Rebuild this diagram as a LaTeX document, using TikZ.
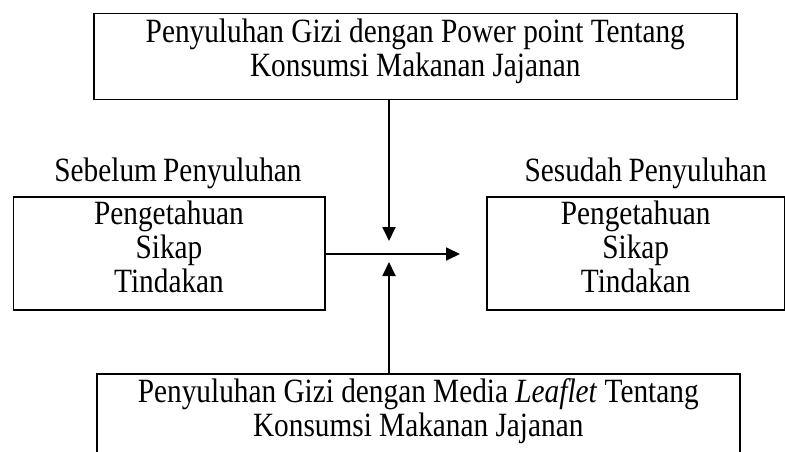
\documentclass[tikz,border=0pt]{standalone}
\usepackage{fontspec}
\setmainfont{Liberation Serif}[FakeStretch=0.862, WordSpace=0.85]
\usetikzlibrary{arrows.meta,positioning}

\tikzset{
  box/.style={draw, line width=1.5pt, inner sep=0pt, align=center, anchor=north west,
    execute at begin node={\spaceskip=7.3pt\relax}},
  arr/.style={line width=1.8pt, -{Triangle[length=14pt,width=13pt]}},
}

\begin{document}
\begin{tikzpicture}[x=1pt, y=-1pt, font=\fontsize{34}{34}\selectfont]
  \clip (0,0) rectangle (785,452);
  % media boxes
  \node[box, text width=643pt, text height=29pt, text depth=57pt] (ppt) at (93,13)
    {Penyuluhan Gizi dengan Power point Tentang\\Konsumsi Makanan Jajanan};
  \node[box, text width=643pt, text height=29pt, text depth=100pt] (leaflet) at (96,373)
    {Penyuluhan Gizi dengan Media \textit{Leaflet} Tentang\\Konsumsi Makanan Jajanan};
  % before / after
  \node[box, text width=311.5pt, text height=28pt, text depth=85pt] (pre) at (12.5,196)
    {Pengetahuan\\Sikap\\Tindakan};
  \node[box, text width=298pt, text height=28pt, text depth=85pt] (post) at (486,196)
    {Pengetahuan\\Sikap\\Tindakan};
  \node[above=15pt of pre.north, anchor=base, xshift=9pt] (preLabel) {Sebelum Penyuluhan};
  \node[above=15pt of post.north, anchor=base, xshift=10pt] (postLabel) {Sesudah Penyuluhan};
  % arrows
  \coordinate (meet) at (389,254);
  \draw[arr] (ppt.south -| meet) -- ([yshift=13pt]meet);
  \draw[arr] (leaflet.north -| meet) -- ([yshift=-8pt]meet);
  \draw[arr] (pre.east |- meet) -- ([xshift=-26pt]post.west |- meet);
\end{tikzpicture}
\end{document}
